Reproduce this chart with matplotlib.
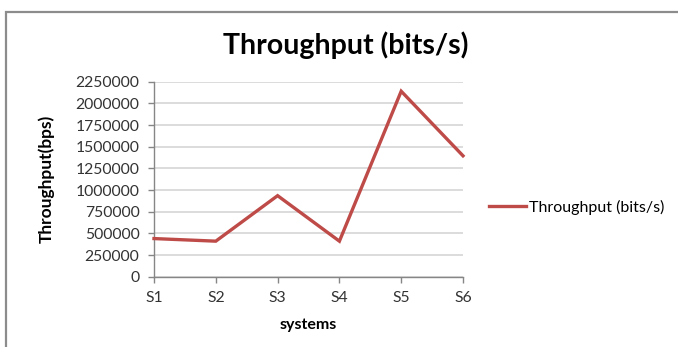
import matplotlib
matplotlib.use("Agg")
import matplotlib.pyplot as plt
from matplotlib.patches import Rectangle

# Throughput measured for each system
systems = ["S1", "S2", "S3", "S4", "S5", "S6"]
throughput = [440000, 410000, 935000, 410000, 2140000, 1395000]
y_ticks = [0, 250000, 500000, 750000, 1000000, 1250000, 1500000, 1750000, 2000000, 2250000]

FONT = "Lato"
LINE_RED = "#be4b48"
AXIS_GRAY = "#868686"
GRID_GRAY = "#d9d9d9"

W, H = 678, 347
fig = plt.figure(figsize=(W / 100, H / 100), dpi=100)
fig.patch.set_facecolor("white")

# Chart-area frame (open toward the right and bottom edges)
fig.patches.append(Rectangle((6 / W, -0.1), 1.2, 1.1 - 12 / H, transform=fig.transFigure,
                             fill=False, edgecolor="#8c8c8c", linewidth=1.6, zorder=0))

ax = fig.add_axes([154 / W, 1 - 276.7 / H, (463 - 154) / W, (276.7 - 81.7) / H])
x = list(range(len(systems)))
ax.plot(x, throughput, color=LINE_RED, linewidth=2.4, solid_joinstyle="miter",
        label="Throughput (bits/s)", zorder=3, clip_on=False)

ax.set_xlim(0, len(systems) - 1)
ax.set_ylim(0, 2250000)
ax.set_yticks(y_ticks)
ax.set_yticklabels([str(v) for v in y_ticks])
ax.set_xticks(x)
ax.set_xticklabels(systems)

ax.grid(axis="y", color=GRID_GRAY, linewidth=1.3)
ax.set_axisbelow(True)
for side in ["top", "right"]:
    ax.spines[side].set_visible(False)
for side in ["left", "bottom"]:
    ax.spines[side].set_color(AXIS_GRAY)
    ax.spines[side].set_linewidth(1.0)
ax.tick_params(axis="both", color=AXIS_GRAY, length=4.5, width=1.0, direction="out",
               labelsize=11.3, labelcolor="#333333")
ax.tick_params(axis="y", pad=6)
ax.tick_params(axis="x", pad=6)
for lab in ax.get_xticklabels() + ax.get_yticklabels():
    lab.set_fontfamily(FONT)

ax.set_xlabel("systems", fontfamily=FONT, fontweight="bold", fontsize=11.5, labelpad=9)
ax.set_ylabel("Throughput(bps)", fontfamily=FONT, fontweight="bold", fontsize=12.5, labelpad=15)

fig.text(346 / W, 1 - 45 / H, "Throughput (bits/s)", ha="center", va="center",
         fontfamily=FONT, fontweight="bold", fontsize=20.5)

ax.legend(loc="center left", bbox_to_anchor=(489 / W, 1 - 207 / H),
          bbox_transform=fig.transFigure, frameon=False, handlelength=2.3,
          handletextpad=0.2, borderpad=0, borderaxespad=0,
          prop={"family": FONT, "size": 11.5})

fig.savefig("out.png", dpi=100)
